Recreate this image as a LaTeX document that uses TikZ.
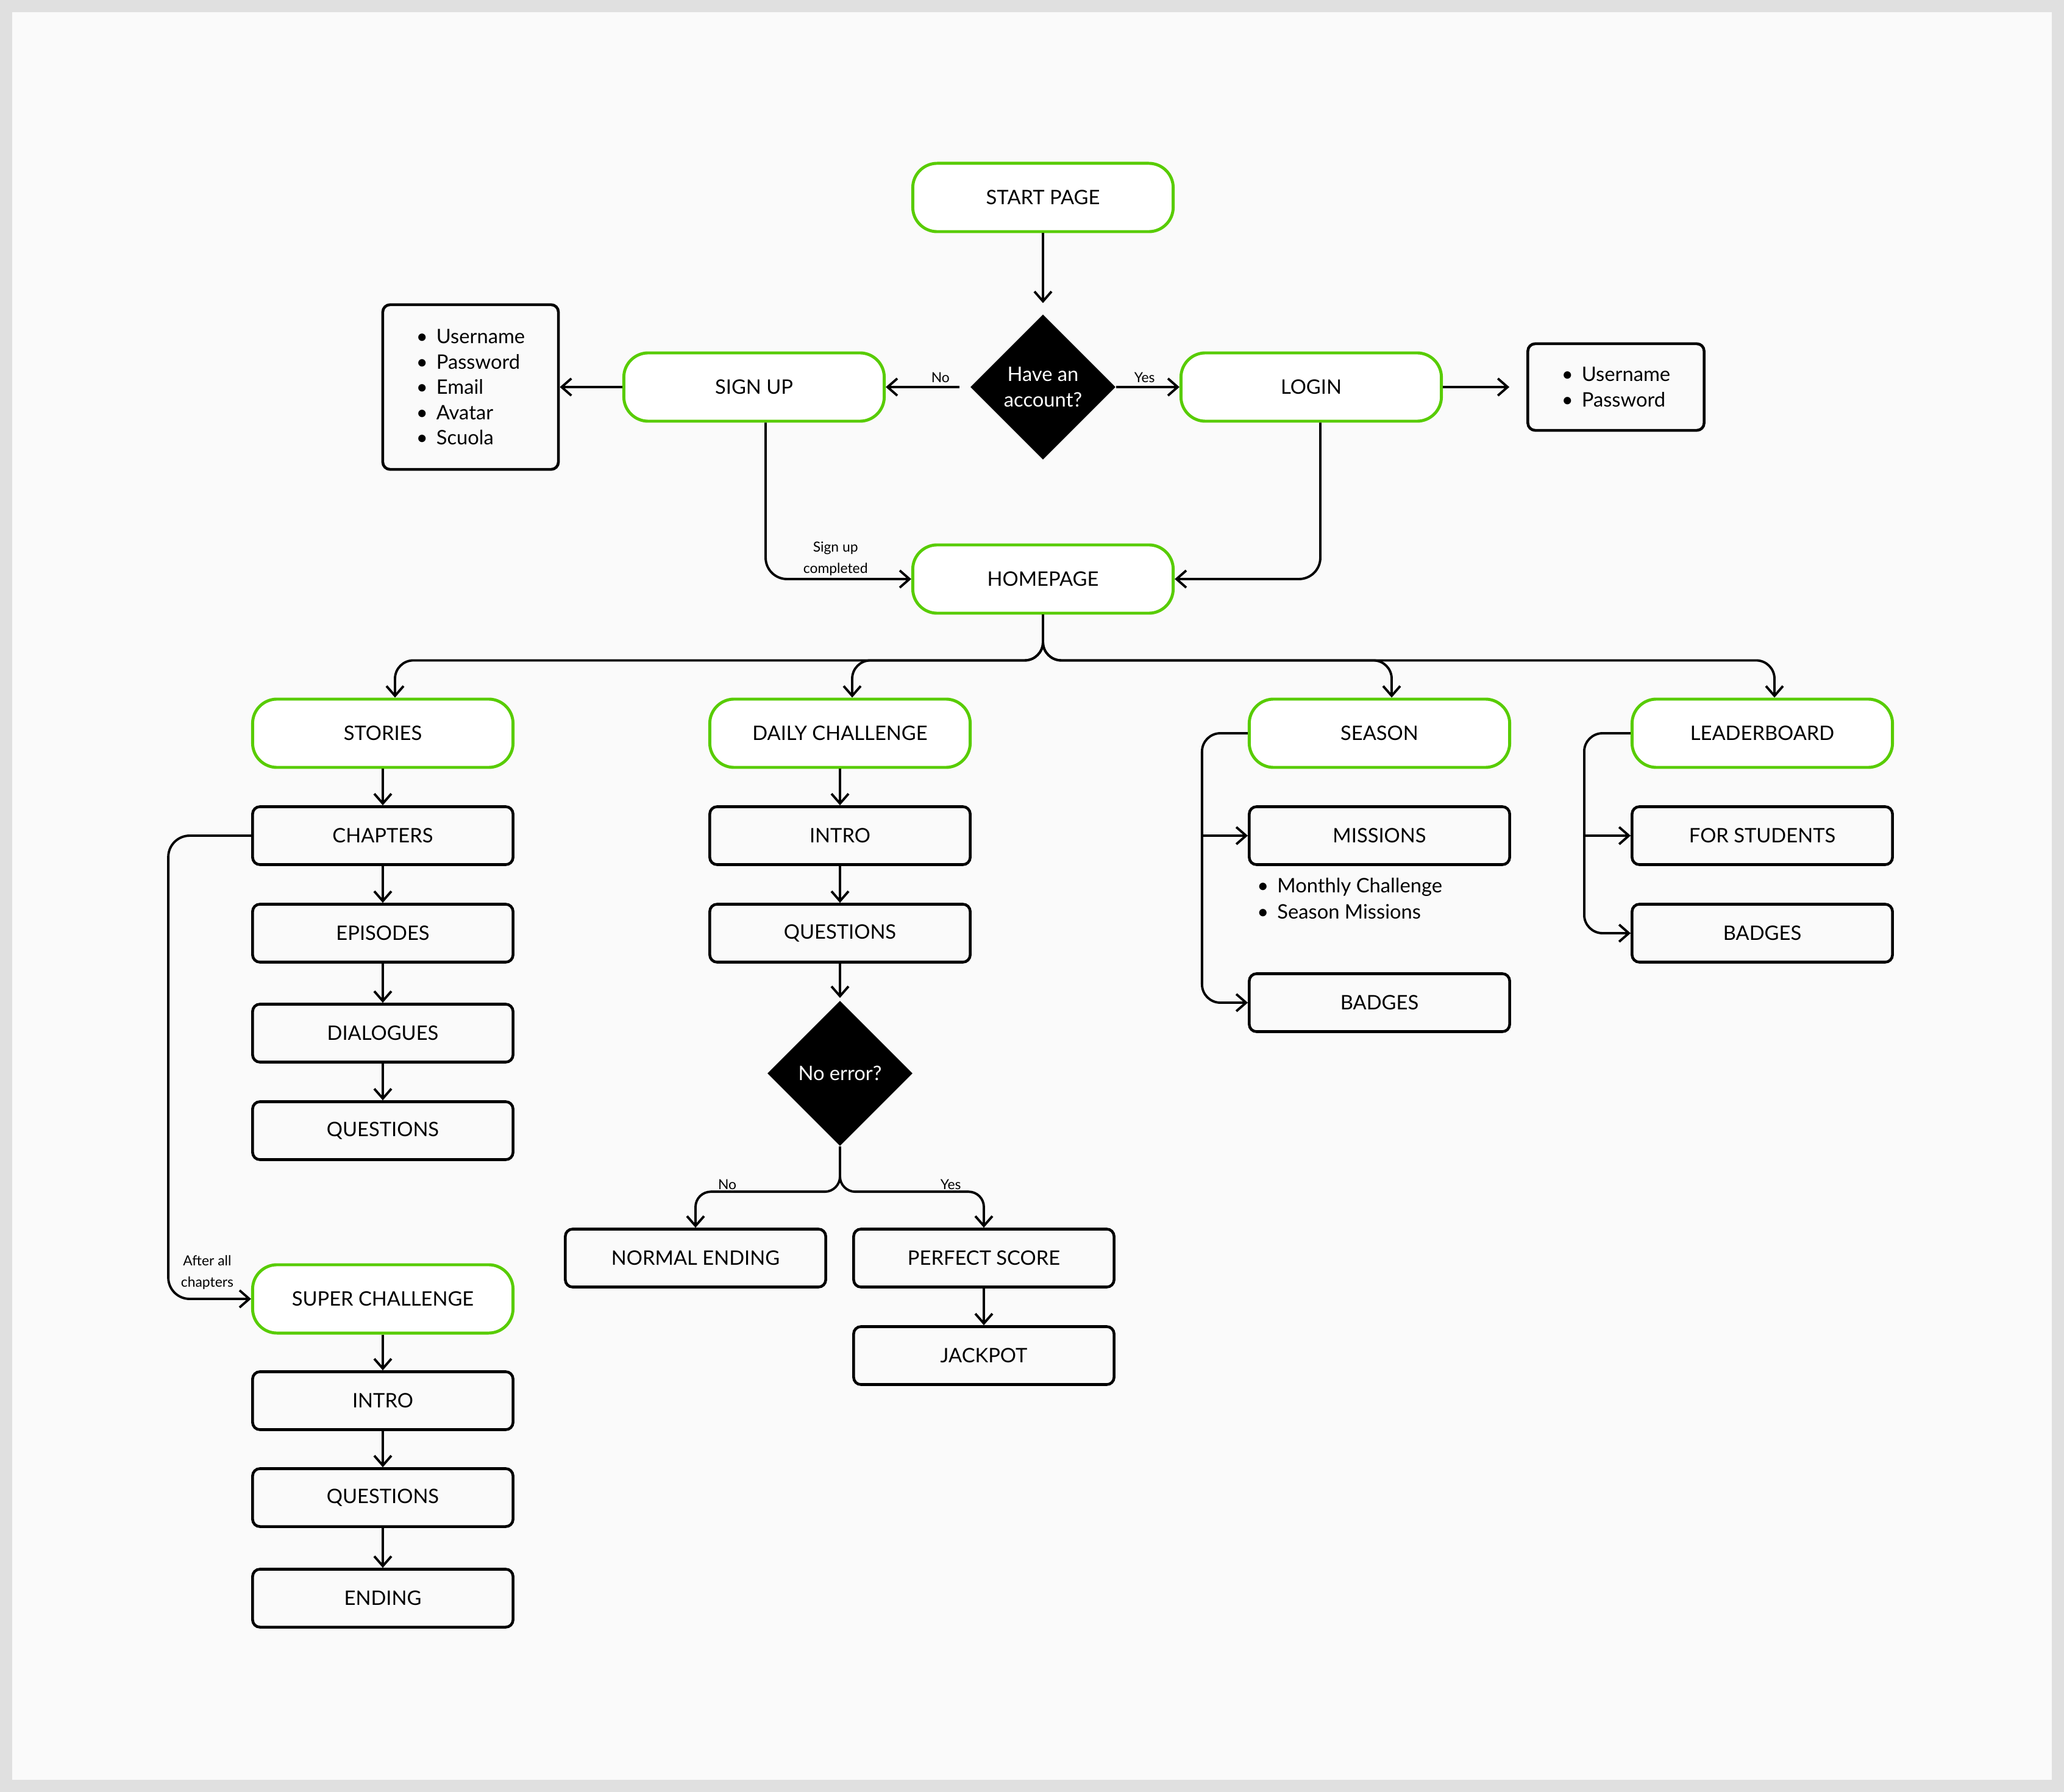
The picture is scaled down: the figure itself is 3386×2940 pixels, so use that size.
\documentclass[tikz,border=0pt]{standalone}
\usepackage{fontspec}
\setmainfont{Lato}
\usetikzlibrary{arrows.meta,shapes.geometric}

\definecolor{appgreen}{RGB}{88,204,2}
\definecolor{paper}{HTML}{FAFAFA}
\definecolor{frame}{HTML}{E0E0E0}

\newcommand{\bul}{\makebox[0.33cm][l]{\textbullet}}

\tikzset{
  screen/.style={draw=appgreen, line width=1.4pt, fill=white, rounded corners=0.4cm,
    minimum width=4.27cm, minimum height=1.12cm, font=\fontsize{9.3}{11.8}\selectfont},
  page/.style={draw=black, line width=1.3pt, fill=paper, rounded corners=0.12cm,
    minimum width=4.27cm, minimum height=0.95cm, font=\fontsize{9.3}{11.8}\selectfont},
  choice/.style={diamond, fill=black, text=white, minimum width=2.38cm, minimum height=2.38cm,
    inner sep=0pt, align=center, font=\fontsize{9.3}{11.8}\selectfont},
  fields/.style={draw=black, line width=1.3pt, rounded corners=0.12cm, align=left,
    font=\fontsize{9.3}{11.8}\selectfont},
  arr/.style={-{Straight Barb[length=1.6mm,width=2.8mm]}, line width=1.1pt},
  lbl/.style={font=\fontsize{6.5}{10}\selectfont, align=center},
}

\begin{document}
\begin{tikzpicture}[x=0.01cm, y=-0.01cm]
  \fill[frame] (0,0) rectangle (3386,2940);
  \fill[paper] (20,20) rectangle (3366,2920);

  % access
  \node[screen] (start) at (1711,324) {START PAGE};
  \node[choice] (account) at (1711,635) {Have an\\account?};
  \node[screen] (signup) at (1237,635) {SIGN UP};
  \node[screen] (login) at (2151,635) {LOGIN};
  \node[fields, minimum width=2.88cm, minimum height=2.70cm] (signupdata) at (772,635)
    {\bul Username\\ \bul Password\\ \bul Email\\ \bul Avatar\\ \bul Scuola};
  \node[fields, minimum width=2.89cm, minimum height=1.42cm] (logindata) at (2651,635)
    {\bul Username\\ \bul Password};
  \node[screen] (home) at (1711,950) {HOMEPAGE};

  \draw[arr, shorten >=0.18cm] (start) -- (account);
  \draw[arr, shorten <=0.17cm] (account) -- node[lbl, above, pos=0.35, yshift=-0.06cm]{No} (signup);
  \draw[arr] (account) -- node[lbl, above, pos=0.45, yshift=-0.06cm]{Yes} (login);
  \draw[arr] (signup) -- (signupdata);
  \draw[arr, shorten >=0.28cm] (login) -- (logindata);
  \draw[arr, rounded corners=0.35cm] ([xshift=0.19cm]signup.south) |- node[lbl, above, pos=0.74, yshift=-0.08cm]{Sign up\\completed} (home.west);
  \draw[arr, rounded corners=0.35cm] ([xshift=0.15cm]login.south) |- (home.east);

  % sections
  \node[screen] (stories) at (628,1203) {STORIES};
  \node[screen] (daily) at (1378,1203) {DAILY CHALLENGE};
  \node[screen] (season) at (2263,1203) {SEASON};
  \node[screen] (board) at (2891,1203) {LEADERBOARD};

  \foreach \sec in {stories, daily, season, board}
    \draw[arr, rounded corners=0.3cm] (home.south) |- ([xshift=0.2cm, yshift=0.61cm]\sec.north) -- ([xshift=0.2cm]\sec.north);

  % stories
  \node[page] (chapters) at (628,1371) {CHAPTERS};
  \node[page] (episodes) at (628,1531) {EPISODES};
  \node[page] (dialogues) at (628,1695) {DIALOGUES};
  \node[page] (storyq) at (628,1855) {QUESTIONS};
  \node[screen] (super) at (628,2131) {SUPER CHALLENGE};
  \node[page] (superintro) at (628,2298) {INTRO};
  \node[page] (superq) at (628,2457) {QUESTIONS};
  \node[page] (superend) at (628,2622) {ENDING};

  \draw[arr, rounded corners=0.35cm] (chapters.west) -- ++(-136,0) |- node[lbl, above, pos=0.735, yshift=0.02cm]{After all\\chapters} (super.west);

  % daily challenge
  \node[page] (dailyintro) at (1378,1371) {INTRO};
  \node[page] (dailyq) at (1378,1531) {QUESTIONS};
  \node[choice] (noerror) at (1378,1761) {No error?};
  \node[page] (normal) at (1141,2064) {NORMAL ENDING};
  \node[page] (perfect) at (1614,2064) {PERFECT SCORE};
  \node[page] (jackpot) at (1614,2224) {JACKPOT};

  \draw[arr, shorten >=0.04cm] (dailyq) -- (noerror);
  \draw[arr, rounded corners=0.25cm] (noerror.south) |- node[lbl, above, pos=0.89, yshift=-0.1cm]{No} ([yshift=0.59cm]normal.north) -- (normal.north);
  \draw[arr, rounded corners=0.25cm] (noerror.south) |- node[lbl, above, pos=0.885, yshift=-0.1cm]{Yes} ([yshift=0.59cm]perfect.north) -- (perfect.north);

  \foreach \a/\b in {stories/chapters, chapters/episodes, episodes/dialogues, dialogues/storyq,
      super/superintro, superintro/superq, superq/superend,
      daily/dailyintro, dailyintro/dailyq, perfect/jackpot}
    \draw[arr] (\a) -- (\b);

  % season
  \node[page] (missions) at (2263,1371) {MISSIONS};
  \node[align=left, anchor=west, font=\fontsize{9.3}{12.2}\selectfont] (missionlist) at (2050,1474)
    {\bul Monthly Challenge\\ \bul Season Missions};
  \node[page] (seasonbadges) at (2263,1645) {BADGES};
  \draw[arr, rounded corners=0.3cm] (season.west) -- ++(-75,0) |- (seasonbadges.west);
  \draw[arr] ([xshift=-0.75cm]missions.west) -- (missions.west);

  % leaderboard
  \node[page] (students) at (2891,1371) {FOR STUDENTS};
  \node[page] (boardbadges) at (2891,1531) {BADGES};
  \draw[arr, rounded corners=0.3cm] (board.west) -- ++(-76,0) |- (boardbadges.west);
  \draw[arr] ([xshift=-0.76cm]students.west) -- (students.west);
\end{tikzpicture}
\end{document}
